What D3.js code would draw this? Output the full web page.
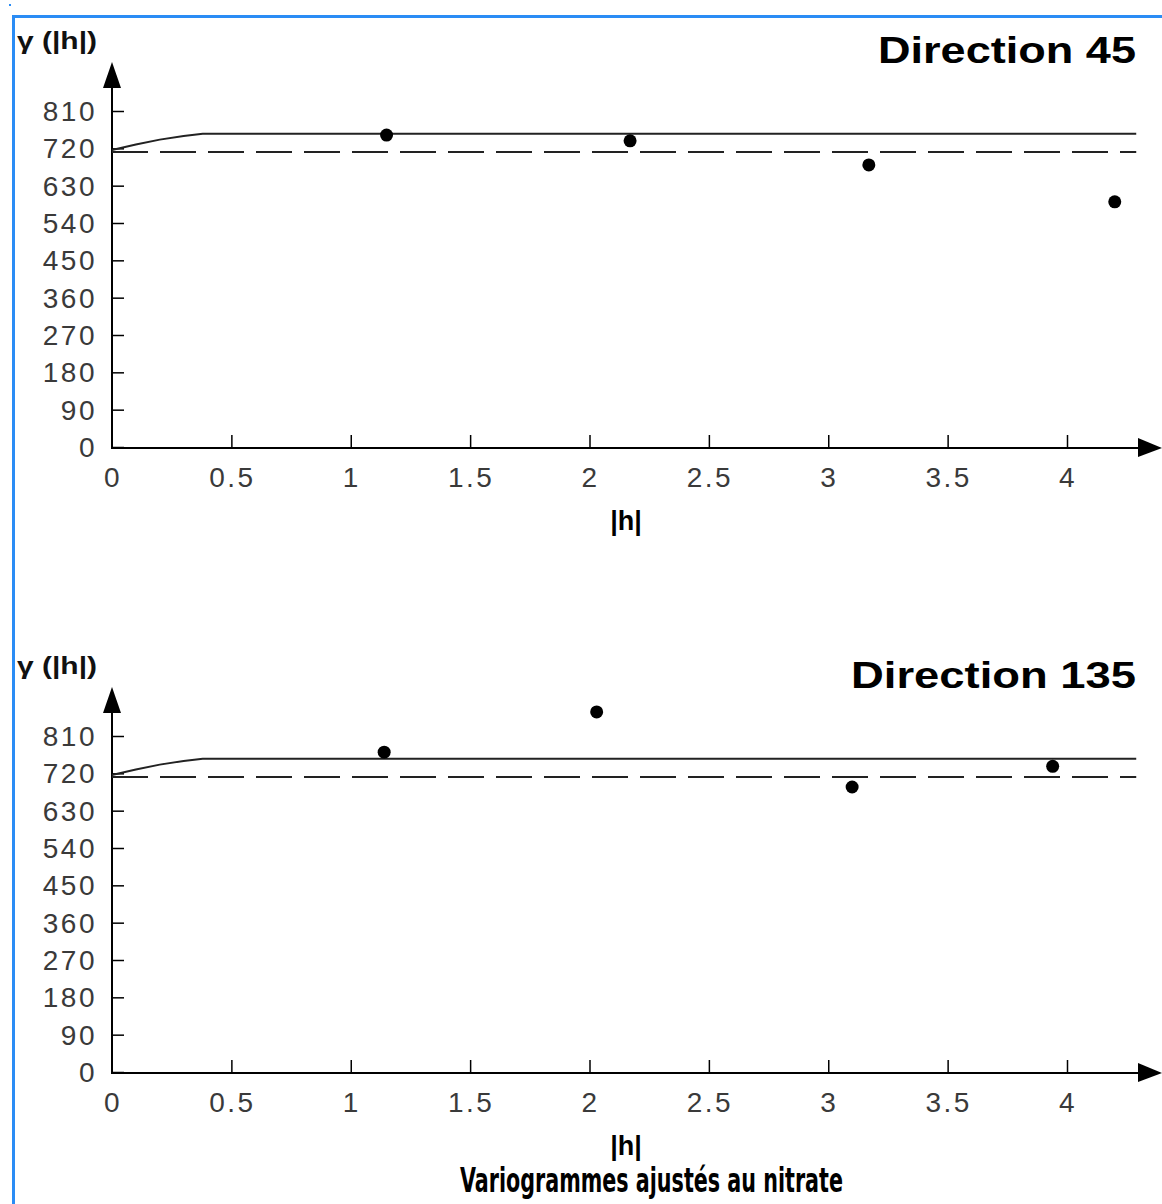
<!DOCTYPE html>
<html><head><meta charset="utf-8">
<script src="https://cdn.jsdelivr.net/npm/d3@7"></script>
<style>body{margin:0;background:#fff}svg{display:block}</style>
</head><body>
<script>
// ---- data ----
const xTicks = [0, 0.5, 1, 1.5, 2, 2.5, 3, 3.5, 4];
const yTicks = [0, 90, 180, 270, 360, 450, 540, 630, 720, 810];
const titles = ["Direction 45", "Direction 135"];
const lag45 = [1.15, 2.17, 3.17, 4.20];
const gamma45 = [752, 738, 680, 591];
const lag135 = [1.14, 2.03, 3.10, 3.94];
const gamma135 = [771, 868, 687, 737];
const modelLag = [0, 0.1, 0.2, 0.3, 0.38, 4.29];
const modelGamma = [716, 729, 741, 750, 755, 755];
const varianceLag = [0, 4.29];
const varianceGamma = [711, 711];
const yLabel = "γ (|h|)";
const xLabel = "|h|";
const caption = "Variogrammes ajustés au nitrate";

const W = 1162, H = 1204;
const svg = d3.select("body").append("svg").attr("width", W).attr("height", H);

// border
svg.append("rect").attr("x", 9).attr("y", 4).attr("width", 2).attr("height", 2).attr("fill", "#2a8cf5");
svg.append("rect").attr("x", 12).attr("y", 15).attr("width", W - 12).attr("height", 3).attr("fill", "#2a8cf5");
svg.append("rect").attr("x", 12).attr("y", 15).attr("width", 3).attr("height", H - 15).attr("fill", "#2a8cf5");

const x = d3.scaleLinear().domain([0, 4]).range([112, 1067]);

function panel(offset, title, titleW, lags, gammas) {
  const g = svg.append("g").attr("transform", `translate(0,${offset})`);
  const y = d3.scaleLinear().domain([0, 810]).range([447, 111]);
  const x0 = x(0), y0 = y(0);

  // y axis
  const ya = g.append("g").attr("transform", `translate(${x0},0)`)
    .call(d3.axisRight(y).tickValues(yTicks).tickSize(12).tickFormat(""));
  ya.select(".domain").remove();
  ya.selectAll("line").attr("stroke", "#000").attr("stroke-width", 1.5);
  g.selectAll(".ylab").data(yTicks).join("text")
    .attr("x", 97).attr("y", d => y(d) + 10)
    .attr("text-anchor", "end")
    .attr("font-family", "Liberation Sans Narrow, Liberation Sans, Arial, sans-serif")
    .attr("font-size", 28).attr("fill", "#3a3a3a")
    .attr("letter-spacing", 2.5)
    .text(d => d);

  // x axis
  const xa = g.append("g").attr("transform", `translate(0,${y0})`)
    .call(d3.axisTop(x).tickValues(xTicks.slice(1)).tickSize(12).tickFormat(""));
  xa.select(".domain").remove();
  xa.selectAll("line").attr("stroke", "#000").attr("stroke-width", 1.5);
  g.selectAll(".xlab").data(xTicks).join("text")
    .attr("x", d => x(d) + 1).attr("y", y0 + 40)
    .attr("text-anchor", "middle")
    .attr("font-family", "Liberation Sans Narrow, Liberation Sans, Arial, sans-serif")
    .attr("font-size", 28).attr("fill", "#3a3a3a")
    .attr("letter-spacing", 2.5)
    .text(d => d3.format("~g")(d));

  // axis lines with arrows
  g.append("line").attr("x1", x0).attr("x2", x0).attr("y1", y0 + 1).attr("y2", 80)
    .attr("stroke", "#000").attr("stroke-width", 2);
  g.append("path").attr("d", `M${x0},62 L${x0 - 9},88 L${x0 + 9},88 Z`).attr("fill", "#000");
  g.append("line").attr("x1", x0 - 1).attr("x2", 1145).attr("y1", y0 + 1).attr("y2", y0 + 1)
    .attr("stroke", "#000").attr("stroke-width", 2);
  g.append("path").attr("d", `M1162,${y0 + 1} L1138,${y0 - 9} L1138,${y0 + 10} Z`).attr("fill", "#000");

  // variance (dashed)
  const line = d3.line().x(d => x(d[0])).y(d => y(d[1]));
  g.append("path").datum(d3.zip(varianceLag, varianceGamma)).attr("d", line)
    .attr("fill", "none").attr("stroke", "#222").attr("stroke-width", 2)
    .attr("stroke-dasharray", "36,12");
  // model
  g.append("path").datum(d3.zip(modelLag, modelGamma)).attr("d", line)
    .attr("fill", "none").attr("stroke", "#222").attr("stroke-width", 2);

  // points
  g.selectAll(".pt").data(d3.zip(lags, gammas)).join("circle")
    .attr("cx", d => x(d[0])).attr("cy", d => y(d[1])).attr("r", 6.5).attr("fill", "#000");

  // labels
  g.append("text").attr("x", 17).attr("y", 49)
    .attr("font-family", "Liberation Sans, Arial, sans-serif").attr("font-weight", "bold")
    .attr("font-size", 23).attr("fill", "#111")
    .attr("textLength", 80).attr("lengthAdjust", "spacingAndGlyphs")
    .text(yLabel);
  g.append("text").attr("x", 1136 - titleW).attr("y", 63)
    .attr("font-family", "Liberation Sans, Arial, sans-serif").attr("font-weight", "bold")
    .attr("font-size", 37).attr("fill", "#000")
    .attr("textLength", titleW).attr("lengthAdjust", "spacingAndGlyphs")
    .text(title);
  g.append("text").attr("x", 626).attr("y", 530).attr("text-anchor", "middle")
    .attr("font-family", "Liberation Sans, Arial, sans-serif").attr("font-weight", "bold")
    .attr("font-size", 27).attr("fill", "#000")
    .text(xLabel);
}

panel(0, titles[0], 258, lag45, gamma45);
panel(625, titles[1], 285, lag135, gamma135);

svg.append("text").attr("x", 460).attr("y", 1192)
  .attr("font-family", "Liberation Sans Narrow, DejaVu Sans Condensed, sans-serif")
  .attr("font-weight", "bold").attr("font-size", 34).attr("fill", "#000")
  .attr("textLength", 383).attr("lengthAdjust", "spacingAndGlyphs")
  .text(caption);
</script>
</body></html>
